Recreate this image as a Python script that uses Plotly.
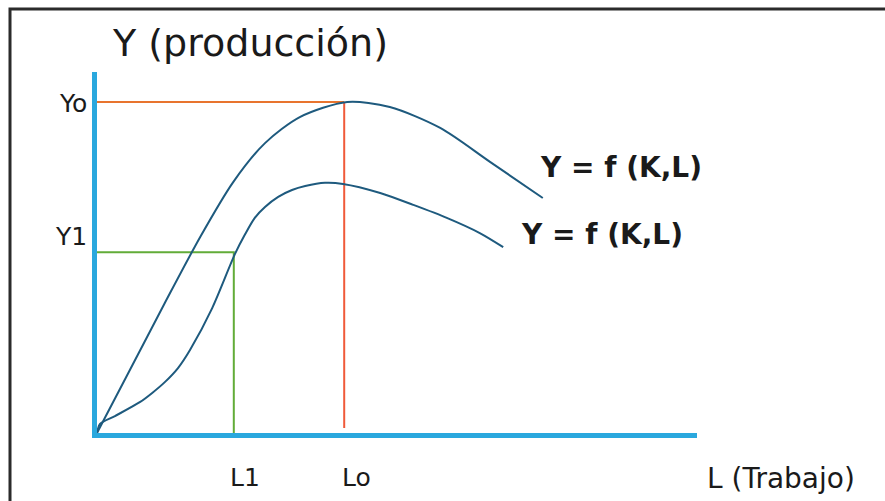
import plotly.graph_objects as go

# ---- data ----
upper_L = [0, 5.5, 11.3, 17.2, 22.7, 28.0, 33.8, 41.7, 48.8, 57.2, 65.5, 74.3]
upper_Y = [0, 17.5, 36.0, 54.3, 69.5, 80.3, 87.5, 91.7, 90.3, 84.5, 75.1, 65.1]

lower_L = [0, 0.5, 3.0, 7.2, 9.2, 11.3, 13.5, 15.5, 19.2, 23.0, 24.7, 26.3, 28.0, 30.2,
           32.5, 34.7, 38.0, 41.0, 47.2, 52.7, 58.3, 63.8, 67.7]
lower_Y = [0, 2.5, 4.7, 8.6, 11.1, 14.1, 18.0, 23.0, 34.6, 49.6, 55.1, 59.6, 62.6, 65.4,
           67.3, 68.4, 69.3, 69.0, 66.5, 63.2, 59.6, 55.4, 51.5]

L1, Lo = 22.8, 41.2
Y1, Yo = 50.1, 91.7
Lo_bottom = 1.4

curve_label = "Y = f (K,L)"
y_tick_labels = ["Yo", "Y1"]
x_tick_labels = ["L1", "Lo"]
y_title = "Y (producción)"
x_title = "L (Trabajo)"

# ---- styles ----
AXIS = "#2AA8DE"
CURVE = "#1E5A7E"
GREEN = "#62AC38"
ORANGE_H = "#E8742E"
ORANGE_V = "#F05A3A"
TXT = "#1a1a1a"
FONT = "DejaVu Sans"

fig = go.Figure()

# reference lines
fig.add_trace(go.Scatter(x=[0, L1, L1], y=[Y1, Y1, 0], mode="lines",
                         line=dict(color=GREEN, width=2), cliponaxis=False, hoverinfo="skip"))
fig.add_trace(go.Scatter(x=[0, Lo], y=[Yo, Yo], mode="lines",
                         line=dict(color=ORANGE_H, width=2), cliponaxis=False, hoverinfo="skip"))
fig.add_trace(go.Scatter(x=[Lo, Lo], y=[Yo, Lo_bottom], mode="lines",
                         line=dict(color=ORANGE_V, width=2), cliponaxis=False, hoverinfo="skip"))

# production curves
fig.add_trace(go.Scatter(x=upper_L, y=upper_Y, mode="lines",
                         line=dict(color=CURVE, width=2, shape="spline", smoothing=0.8),
                         cliponaxis=False, hoverinfo="skip"))
fig.add_trace(go.Scatter(x=lower_L, y=lower_Y, mode="lines",
                         line=dict(color=CURVE, width=2, shape="spline", smoothing=0.8),
                         cliponaxis=False, hoverinfo="skip"))

ann = []
tick_font = dict(family=FONT, size=25, color=TXT)
# y labels
ann.append(dict(x=0, xref="paper", y=Yo, yref="y", text=y_tick_labels[0], showarrow=False,
                xanchor="right", yanchor="middle", xshift=-8, yshift=-2, font=tick_font))
ann.append(dict(x=0, xref="paper", y=Y1, yref="y", text=y_tick_labels[1], showarrow=False,
                xanchor="right", yanchor="middle", xshift=-8, yshift=16, font=tick_font))
# x labels
ann.append(dict(x=L1, xref="x", y=0, yref="paper", text=x_tick_labels[0], showarrow=False,
                xanchor="center", yanchor="middle", xshift=11, yshift=-44, font=tick_font))
ann.append(dict(x=Lo, xref="x", y=0, yref="paper", text=x_tick_labels[1], showarrow=False,
                xanchor="center", yanchor="middle", xshift=12, yshift=-44, font=tick_font))
# curve labels
ann.append(dict(x=upper_L[-1], xref="x", y=upper_Y[-1], yref="y", text=curve_label, showarrow=False,
                xanchor="center", yanchor="middle", xshift=78, yshift=30,
                font=dict(family=FONT, size=28, color=TXT, weight="bold")))
ann.append(dict(x=lower_L[-1], xref="x", y=lower_Y[-1], yref="y", text=curve_label, showarrow=False,
                xanchor="center", yanchor="middle", xshift=99, yshift=13,
                font=dict(family=FONT, size=28, color=TXT, weight="bold")))
# axis titles
ann.append(dict(x=0, xref="paper", y=1, yref="paper", text=y_title, showarrow=False,
                xanchor="center", yanchor="middle", xshift=153, yshift=29,
                font=dict(family=FONT, size=38, color=TXT)))
ann.append(dict(x=1, xref="paper", y=0, yref="paper", text=x_title, showarrow=False,
                xanchor="center", yanchor="middle", xshift=84, yshift=-45,
                font=dict(family=FONT, size=28, color=TXT)))

fig.update_layout(
    width=885, height=501,
    margin=dict(l=97, r=188, t=72, b=68),
    paper_bgcolor="white", plot_bgcolor="white",
    showlegend=False,
    annotations=ann,
    shapes=[dict(type="rect", xref="paper", yref="paper",
                 x0=-0.145, x1=1.5, y0=-0.6, y1=1.1745,
                 line=dict(color="#2b2b2b", width=3), layer="above")],
)
fig.update_xaxes(range=[0, 100], showline=True, linecolor=AXIS, linewidth=5,
                 showgrid=False, zeroline=False, showticklabels=False, ticks="")
fig.update_yaxes(range=[0, 100], showline=True, linecolor=AXIS, linewidth=5,
                 showgrid=False, zeroline=False, showticklabels=False, ticks="")

fig.write_html("out.html", config={"displayModeBar": False},
               post_script="document.body.style.margin='0';document.body.style.overflow='hidden';")
